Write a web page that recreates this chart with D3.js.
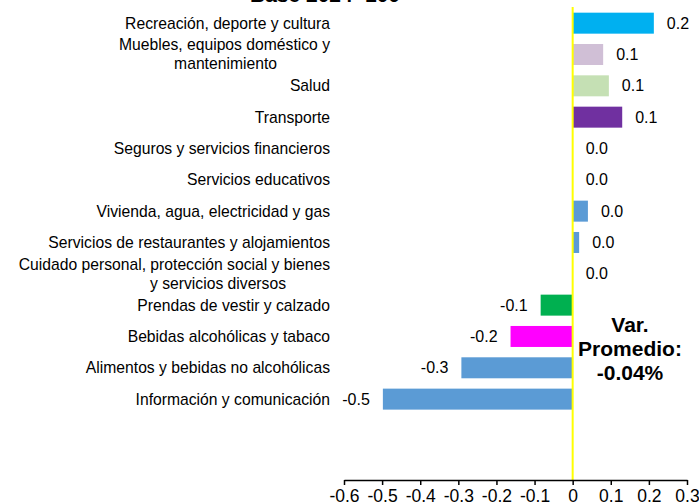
<!DOCTYPE html>
<html>
<head>
<meta charset="utf-8">
<script src="https://cdn.jsdelivr.net/npm/d3@7"></script>
<style>
  body { margin: 0; background: #fff; }
  text { font-family: "Liberation Sans", Arial, sans-serif; }
</style>
</head>
<body>
<div id="chart"></div>
<script>
// data
var categories = [
  "Recreación, deporte y cultura",
  "Muebles, equipos doméstico y\nmantenimiento",
  "Salud",
  "Transporte",
  "Seguros y servicios financieros",
  "Servicios educativos",
  "Vivienda, agua, electricidad y gas",
  "Servicios de restaurantes y alojamientos",
  "Cuidado personal, protección social y bienes\ny servicios diversos",
  "Prendas de vestir y calzado",
  "Bebidas alcohólicas y tabaco",
  "Alimentos y bebidas no alcohólicas",
  "Información y comunicación"
];
var values = [0.213, 0.08, 0.095, 0.13, 0.0, 0.0, 0.04, 0.017, 0.0, -0.084, -0.163, -0.292, -0.498];
var barColors = ["#00b0f0", "#d0bfd6", "#c5e0b4", "#7030a0", "#5b9bd5", "#5b9bd5", "#5b9bd5",
  "#5b9bd5", "#5b9bd5", "#00b050", "#ff00ff", "#5b9bd5", "#5b9bd5"];
var xTicks = [-0.6, -0.5, -0.4, -0.3, -0.2, -0.1, 0, 0.1, 0.2, 0.3];
var title = "Base 2024=100";
var noteLines = ["Var.", "Promedio:", "-0.04%"];

var width = 699, height = 503;

var svg = d3.select("#chart")
  .append("svg")
  .attr("width", width)
  .attr("height", height);

var x = d3.scaleLinear()
  .domain([-0.6, 0.3])
  .range([344, 687]);

var y = d3.scaleBand()
  .domain(categories)
  .range([7.5, 7.5 + 13 * 31.33])
  .paddingInner(0.33)
  .paddingOuter(0.165);

var axisY = 480;

// title (cut off at the top, as in the original)
svg.append("text")
  .attr("x", 325)
  .attr("y", 2)
  .attr("text-anchor", "middle")
  .attr("font-size", "21px")
  .attr("font-weight", "bold")
  .text(title);

// bars
svg.selectAll(".bar")
  .data(values)
  .enter()
  .append("rect")
  .attr("class", "bar")
  .attr("x", function (d) { return x(Math.min(0, d)); })
  .attr("y", function (d, i) { return y(categories[i]); })
  .attr("width", function (d) { return Math.abs(x(d) - x(0)); })
  .attr("height", y.bandwidth())
  .attr("fill", function (d, i) { return barColors[i]; });

// value labels
svg.selectAll(".val")
  .data(values)
  .enter()
  .append("text")
  .attr("class", "val")
  .attr("x", function (d) { return d < 0 ? x(d) - 13 : x(d) + 13; })
  .attr("y", function (d, i) { return y(categories[i]) + y.bandwidth() / 2; })
  .attr("dy", "0.35em")
  .attr("text-anchor", function (d) { return d < 0 ? "end" : "start"; })
  .attr("font-size", "16px")
  .attr("fill", "#000")
  .text(function (d) { return d.toFixed(1); });

// category labels
var catLabels = svg.selectAll(".cat")
  .data(categories)
  .enter()
  .append("text")
  .attr("class", "cat")
  .attr("text-anchor", "end")
  .attr("font-size", "15.7px")
  .attr("fill", "#000")
  .attr("y", function (d) { return y(d) + y.bandwidth() / 2; });

// second lines of the wrapped labels end a bit left of the axis
var secondLineEnd = { "mantenimiento": 277, "y servicios diversos": 286 };

catLabels.each(function (d) {
  var lines = d.split("\n");
  var t = d3.select(this);
  lines.forEach(function (line, k) {
    var off = lines.length === 1 ? 0 : -9.5;
    t.append("tspan")
      .attr("x", k === 0 ? 330 : secondLineEnd[line])
      .attr("dy", k === 0 ? (off + 5.5) + "px" : "19px")
      .text(line);
  });
});

// zero line
svg.append("line")
  .attr("x1", x(0)).attr("x2", x(0))
  .attr("y1", 7).attr("y2", axisY)
  .attr("stroke", "#ffff00")
  .attr("stroke-width", 2);

// x axis
var xAxis = svg.append("g")
  .attr("transform", "translate(0," + axisY + ")")
  .call(d3.axisBottom(x)
    .tickValues(xTicks)
    .tickSize(5)
    .tickSizeOuter(0)
    .tickFormat(function (d) { return d === 0 ? "0" : d.toFixed(1); }));
xAxis.select(".domain").attr("stroke", "#000").attr("stroke-width", 1.5);
xAxis.selectAll(".tick line").attr("stroke", "#000").attr("stroke-width", 1.5);
xAxis.selectAll(".tick text")
  .attr("font-size", "17.5px")
  .attr("fill", "#000")
  .attr("font-family", "'Liberation Sans', Arial, sans-serif")
  .attr("y", 10);

// average note
svg.append("text")
  .attr("x", 630)
  .attr("y", 332)
  .attr("text-anchor", "middle")
  .attr("font-size", "21px")
  .attr("font-weight", "bold")
  .selectAll("tspan")
  .data(noteLines)
  .enter()
  .append("tspan")
  .attr("x", 630)
  .attr("dy", function (d, i) { return i === 0 ? 0 : 24; })
  .text(function (d) { return d; });
</script>
</body>
</html>
